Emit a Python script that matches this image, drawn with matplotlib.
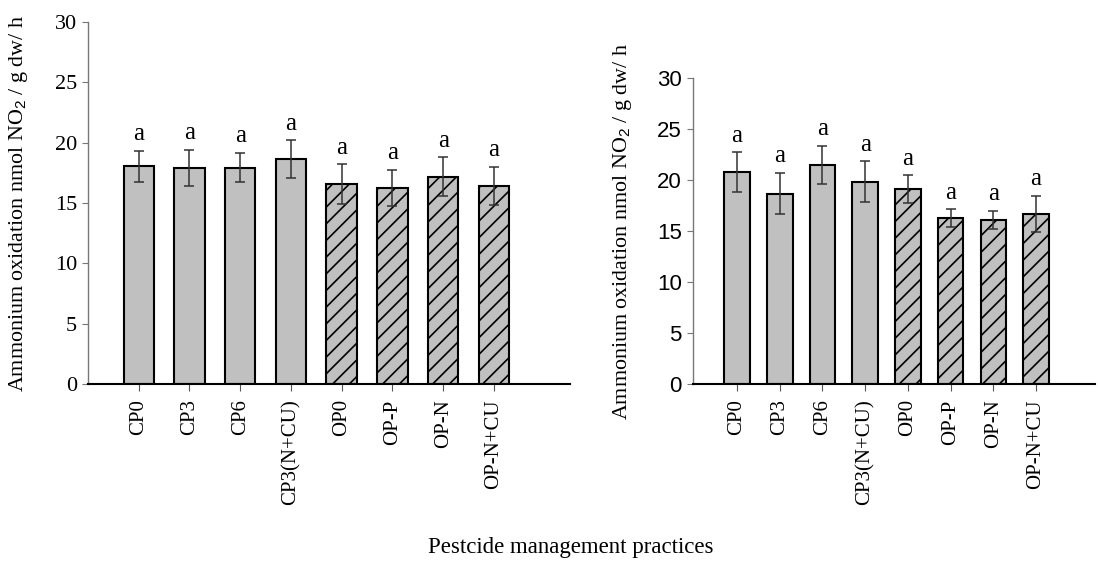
import numpy as np
import matplotlib
matplotlib.use('Agg')
import matplotlib.pyplot as plt

plt.rcParams.update({
    'font.family': ['Liberation Serif', 'DejaVu Serif'],
    'mathtext.fontset': 'custom',
    'mathtext.rm': 'Liberation Sans',
    'hatch.linewidth': 1.2,
    'hatch.color': 'black',
})

treatments = ['CP0', 'CP3', 'CP6', 'CP3(N+CU)', 'OP0', 'OP-P', 'OP-N', 'OP-N+CU']
hatched = [False, False, False, False, True, True, True, True]

# panel 1
mean_a = [18.05, 17.93, 17.93, 18.64, 16.58, 16.24, 17.18, 16.43]
err_a = [1.28, 1.50, 1.22, 1.56, 1.64, 1.53, 1.60, 1.58]
letters_a = ['a'] * 8

# panel 2
mean_b = [20.8, 18.67, 21.5, 19.83, 19.1, 16.29, 16.1, 16.68]
err_b = [1.93, 2.02, 1.88, 2.02, 1.35, 0.85, 0.90, 1.78]
letters_b = ['a'] * 8

FILL = '#c0c0c0'
W, H = 1098, 567

fig = plt.figure(figsize=(W / 100, H / 100), dpi=100)
ax1 = fig.add_axes([88 / W, 1 - 384 / H, (570 - 88) / W, (384 - 22) / H])
ax2 = fig.add_axes([693 / W, 1 - 384 / H, (1095 - 693) / W, (384 - 78) / H])


def draw(ax, means, errs, letters, xlim, tick_font):
    x = np.arange(len(treatments))
    for i in x:
        ax.bar(x[i], means[i], width=0.6, color=FILL, edgecolor='black',
               linewidth=1.5, hatch='//' if hatched[i] else None, zorder=2)
    ax.errorbar(x, means, yerr=errs, fmt='none', ecolor='#333333',
                elinewidth=1.1, capsize=3.8, capthick=1.1, zorder=3)
    for i in x:
        ax.annotate(letters[i], (x[i], means[i] + errs[i]), xytext=(0, 4),
                    textcoords='offset points', ha='center', va='bottom',
                    fontsize=18)
    ax.set_xlim(*xlim)
    ax.set_ylim(0, 30)
    ax.set_yticks(range(0, 31, 5))
    ax.set_xticks(x)
    ax.set_xticklabels(treatments, rotation=90, fontsize=15)
    for lab in ax.get_yticklabels():
        lab.set_fontfamily(tick_font)
        lab.set_fontsize(16)
    ax.spines[['top', 'right']].set_visible(False)
    ax.spines['left'].set_color('#777777')
    ax.spines['left'].set_linewidth(1.0)
    ax.spines['bottom'].set_linewidth(1.5)
    ax.tick_params(axis='y', direction='out', length=4, color='#777777', pad=4)
    ax.tick_params(axis='x', direction='out', length=5, color='#555555', pad=6)


draw(ax1, mean_a, err_a, letters_a, (-1, 8.5), 'Liberation Serif')
draw(ax2, mean_b, err_b, letters_b, (-1.03, 8.38), 'Liberation Sans')

ylab = r'Ammonium oxidation nmol NO$_2$ / g dw/ h'
fig.text(19 / W, 1 - 203 / H, ylab, rotation=90, ha='center', va='center', fontsize=15.8)
fig.text(622 / W, 1 - 231 / H, ylab, rotation=90, ha='center', va='center', fontsize=15.8)
fig.text(571 / W, 1 - 548 / H, 'Pestcide management practices',
         ha='center', va='center', fontsize=16.5)

fig.savefig('out.png', dpi=100)
